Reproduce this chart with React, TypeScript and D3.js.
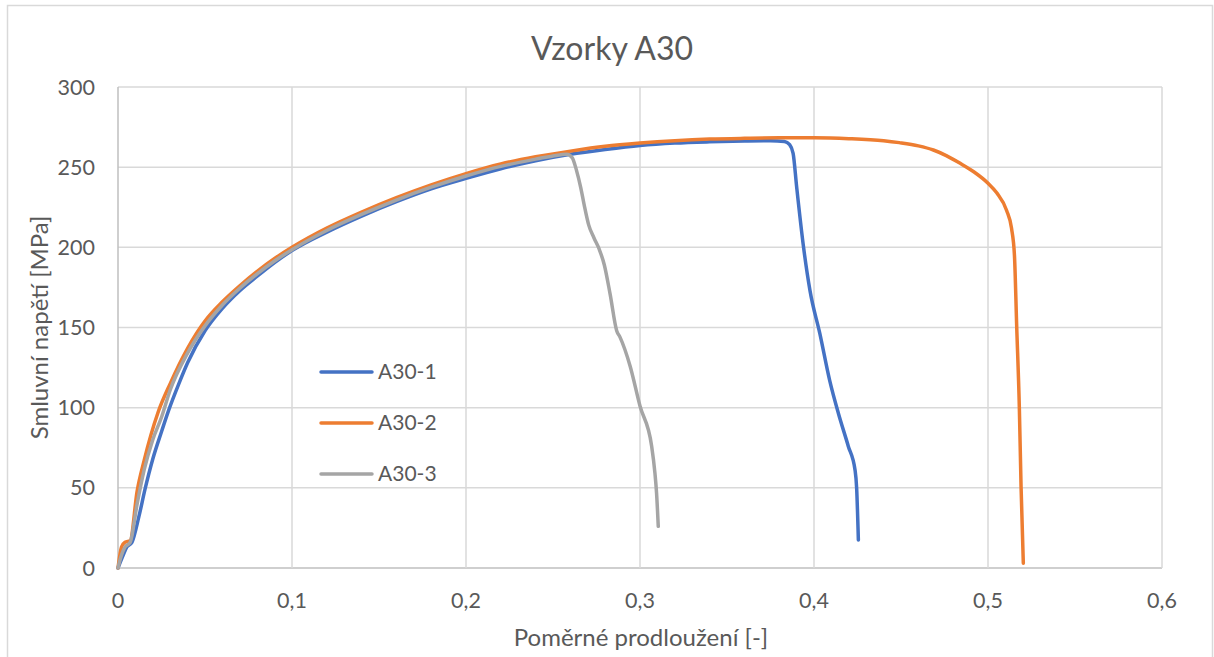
import React from "react";
import * as d3 from "d3";

// body margin offsets the root, so we place the svg absolutely
const W = 1214;
const H = 657;

const xTicks = [0, 0.1, 0.2, 0.3, 0.4, 0.5, 0.6];
const yTicks = [0, 50, 100, 150, 200, 250, 300];

const seriesNames = ["A30-1", "A30-2", "A30-3"];
const seriesColors = ["#4472C4", "#ED7D31", "#A5A5A5"];

// [poměrné prodloužení, smluvní napětí MPa]
const a30_1: [number, number][] = [
	[0, 0], [0.003, 8], [0.005, 13], [0.008, 16], [0.012, 32], [0.0155, 49], [0.02, 68],
	[0.025, 85], [0.029, 98], [0.035, 115], [0.04, 128], [0.05, 148], [0.06, 162],
	[0.07, 173], [0.08, 182], [0.09, 190.5], [0.1, 198], [0.12, 209.5], [0.14, 219.5],
	[0.16, 228.5], [0.18, 236.5], [0.2, 243], [0.22, 249], [0.24, 254], [0.26, 258],
	[0.28, 261], [0.3, 263.5], [0.32, 265], [0.34, 265.8], [0.36, 266.3], [0.375, 266.5],
	[0.383, 266], [0.386, 264], [0.388, 258.6], [0.39, 238], [0.394, 200], [0.3977, 173],
	[0.4034, 146], [0.409, 117], [0.414, 96.5], [0.4197, 76], [0.4236, 61], [0.4245, 50],
	[0.4255, 17.5],
];

const a30_2: [number, number][] = [
	[0, 0], [0.002, 13], [0.004, 16], [0.007, 17], [0.011, 48], [0.015, 67], [0.023, 97],
	[0.03, 115], [0.04, 137], [0.05, 154], [0.06, 166], [0.07, 176], [0.08, 185],
	[0.09, 193], [0.1, 200], [0.12, 212], [0.14, 222], [0.16, 231], [0.18, 239],
	[0.2, 246], [0.22, 252], [0.24, 256.5], [0.26, 260], [0.28, 263], [0.3, 265],
	[0.32, 266.5], [0.34, 267.5], [0.36, 268], [0.38, 268.3], [0.4, 268.3], [0.42, 267.8],
	[0.44, 266.5], [0.449, 265.3], [0.46, 263.3], [0.4686, 260.7], [0.476, 257.2],
	[0.484, 252.4], [0.492, 247], [0.5, 240], [0.505, 234], [0.5107, 223], [0.5135, 212],
	[0.5152, 195], [0.5165, 150.5], [0.518, 100.6], [0.519, 50.7], [0.5203, 3],
];

const a30_3: [number, number][] = [
	[0, 0], [0.002, 8], [0.004, 13], [0.007, 16], [0.011, 40], [0.015, 61], [0.02, 80],
	[0.025, 94], [0.03, 111], [0.04, 134], [0.05, 151], [0.06, 164], [0.07, 174.5],
	[0.08, 183.5], [0.09, 191.5], [0.1, 198.5], [0.12, 210.5], [0.14, 220.5],
	[0.16, 229.5], [0.18, 237.5], [0.2, 244.5], [0.22, 250.5], [0.24, 255], [0.25, 257],
	[0.258, 258], [0.261, 256], [0.2635, 248], [0.266, 237], [0.268, 226], [0.2705, 214],
	[0.2735, 206], [0.2765, 199], [0.2795, 189], [0.2828, 171], [0.2866, 148],
	[0.2885, 144], [0.2943, 126], [0.3, 101], [0.3067, 76], [0.3086, 59], [0.3095, 47],
	[0.3105, 26],
];

const seriesData = [a30_1, a30_2, a30_3];

const margin = { left: 118, right: W - 1162, top: 87, bottom: H - 568 };

export default function App() {
	const x = d3.scaleLinear().domain([0, 0.6]).range([margin.left, W - margin.right]);
	const y = d3.scaleLinear().domain([0, 300]).range([H - margin.bottom, margin.top]);
	const fmt = (v: number) => String(v).replace(".", ",");

	const line = d3
		.line<[number, number]>()
		.x((d) => x(d[0]))
		.y((d) => y(d[1]))
		.curve(d3.curveMonotoneX);

	const font = "Lato, 'Open Sans', sans-serif";
	const textColor = "#595959";

	return (
		<div style={{ position: "absolute", left: 0, top: 0 }}>
			<svg width={W} height={H} style={{ display: "block", background: "#fff" }}>
				<rect x={7.5} y={5.5} width={1205} height={700} fill="#fff" stroke="#d9d9d9" strokeWidth={1.5} />

				<text x={612} y={60} textAnchor="middle" fontFamily={font} fontSize={32} fill={textColor}>
					Vzorky A30
				</text>

				{/* mřížka */}
				{yTicks.map((t) => (
					<line key={"gy" + t} x1={x(0)} x2={x(0.6)} y1={y(t)} y2={y(t)} stroke={t === 0 ? "#bfbfbf" : "#d9d9d9"} strokeWidth={1.5} />
				))}
				{xTicks.map((t) => (
					<line key={"gx" + t} x1={x(t)} x2={x(t)} y1={y(0)} y2={y(300)} stroke={t === 0 ? "#bfbfbf" : "#d9d9d9"} strokeWidth={1.5} />
				))}

				{/* popisky os */}
				{yTicks.map((t) => (
					<text key={"ly" + t} x={95} y={y(t)} dy="0.35em" textAnchor="end" fontFamily={font} fontSize={21.5} fill={textColor}>
						{t}
					</text>
				))}
				{xTicks.map((t) => (
					<text key={"lx" + t} x={x(t)} y={608} textAnchor="middle" fontFamily={font} fontSize={21.5} fill={textColor}>
						{fmt(t)}
					</text>
				))}

				<text x={641} y={646} textAnchor="middle" fontFamily={font} fontSize={24} fill={textColor}>
					Poměrné prodloužení [-]
				</text>
				<text
					transform={`translate(48, ${y(150)}) rotate(-90)`}
					textAnchor="middle"
					fontFamily={font}
					fontSize={24}
					fill={textColor}
				>
					Smluvní napětí [MPa]
				</text>

				{/* křivky */}
				{seriesData.map((d, i) => (
					<path key={seriesNames[i]} d={line(d) || ""} fill="none" stroke={seriesColors[i]} strokeWidth={3.5} strokeLinejoin="round" strokeLinecap="round" />
				))}

				{/* legenda */}
				{seriesNames.map((n, i) => {
					const ly = [372, 423, 474][i];
					return (
						<g key={"lg" + n}>
							<line x1={321} x2={372} y1={ly} y2={ly} stroke={seriesColors[i]} strokeWidth={3.5} strokeLinecap="round" />
							<text x={378} y={ly} dy="0.35em" fontFamily={font} fontSize={21} fill={textColor}>
								{n}
							</text>
						</g>
					);
				})}
			</svg>
		</div>
	);
}
